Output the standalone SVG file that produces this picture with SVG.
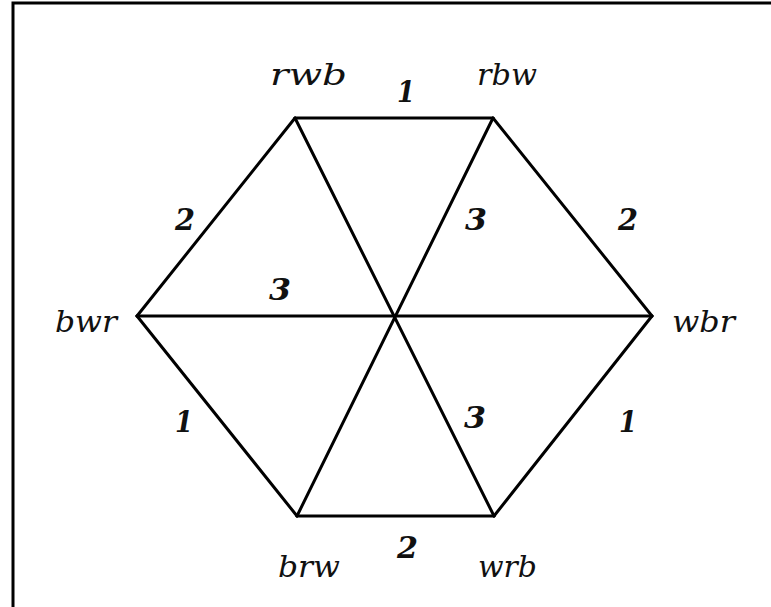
<svg xmlns="http://www.w3.org/2000/svg" width="771" height="607" viewBox="0 0 771 607">
<style>
.e{stroke:#000;stroke-width:3;fill:none;stroke-linecap:round}
.n{font-family:"DejaVu Serif","Liberation Serif",serif;font-style:italic;font-size:30px;fill:#111}
.w{font-family:"DejaVu Serif","Liberation Serif",serif;font-style:italic;font-weight:bold;font-size:30px;fill:#111}
</style>
<rect x="0" y="0" width="771" height="607" fill="#fff"/>
<rect x="13" y="3" width="800" height="700" fill="none" stroke="#000" stroke-width="3"/>
<g id="connectors">
<line class="e" x1="295" y1="118" x2="493" y2="118"/>
<line class="e" x1="493" y1="118" x2="652" y2="316"/>
<line class="e" x1="652" y1="316" x2="494" y2="516"/>
<line class="e" x1="494" y1="516" x2="297" y2="516"/>
<line class="e" x1="297" y1="516" x2="137" y2="316"/>
<line class="e" x1="137" y1="316" x2="295" y2="118"/>
<line class="e" x1="137" y1="316" x2="652" y2="316"/>
<line class="e" x1="295" y1="118" x2="494" y2="516"/>
<line class="e" x1="493" y1="118" x2="297" y2="516"/>
<g id="edge-labels">
<text class="w" x="397" y="102" textLength="18" lengthAdjust="spacingAndGlyphs">1</text>
<text class="w" x="175" y="230" textLength="20" lengthAdjust="spacingAndGlyphs">2</text>
<text class="w" x="465" y="230" textLength="22" lengthAdjust="spacingAndGlyphs">3</text>
<text class="w" x="618" y="230" textLength="20" lengthAdjust="spacingAndGlyphs">2</text>
<text class="w" x="269" y="300" textLength="22" lengthAdjust="spacingAndGlyphs">3</text>
<text class="w" x="175" y="432" textLength="18" lengthAdjust="spacingAndGlyphs">1</text>
<text class="w" x="464" y="428" textLength="22" lengthAdjust="spacingAndGlyphs">3</text>
<text class="w" x="619" y="432" textLength="18" lengthAdjust="spacingAndGlyphs">1</text>
<text class="w" x="397" y="558" textLength="21" lengthAdjust="spacingAndGlyphs">2</text>
</g>
</g>
<g id="node-rwb"><text class="n" x="270" y="85" textLength="77" lengthAdjust="spacingAndGlyphs">rwb</text></g>
<g id="node-rbw"><text class="n" x="477" y="85" textLength="60" lengthAdjust="spacingAndGlyphs">rbw</text></g>
<g id="node-wbr"><text class="n" x="672" y="332" textLength="63" lengthAdjust="spacingAndGlyphs">wbr</text></g>
<g id="node-wrb"><text class="n" x="478" y="577" textLength="59" lengthAdjust="spacingAndGlyphs">wrb</text></g>
<g id="node-brw"><text class="n" x="278" y="577" textLength="62" lengthAdjust="spacingAndGlyphs">brw</text></g>
<g id="node-bwr"><text class="n" x="55" y="332" textLength="62" lengthAdjust="spacingAndGlyphs">bwr</text></g>
</svg>
